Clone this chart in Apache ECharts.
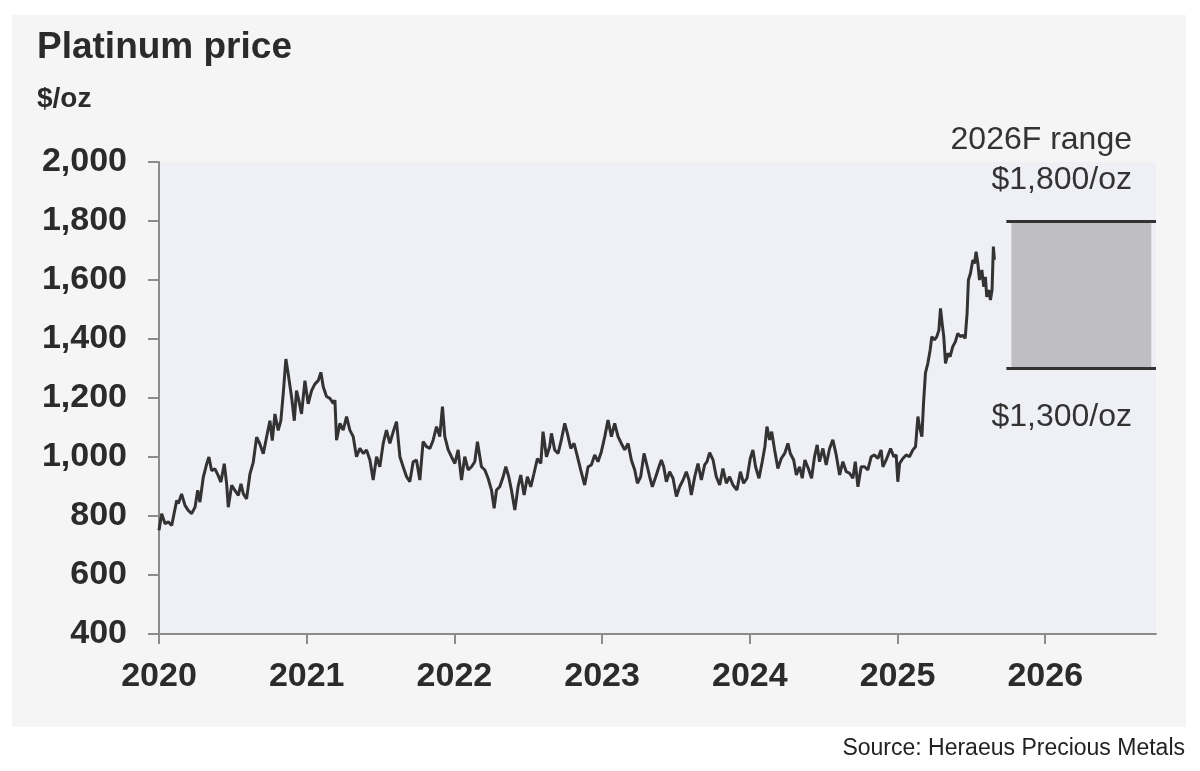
<!DOCTYPE html>
<html>
<head>
<meta charset="utf-8">
<script src="https://cdn.jsdelivr.net/npm/echarts@6/dist/echarts.min.js"></script>
<style>
  html, body { margin: 0; padding: 0; background: #ffffff; }
  #panel { position: absolute; left: 12px; top: 15px; width: 1174px; height: 712px; background: #f5f5f5; }
  #chart { position: absolute; left: 0; top: 0; width: 1200px; height: 771px; }
</style>
</head>
<body>
<div id="panel"></div>
<div id="chart"></div>
<script>
// Time in decimal years
const times = [
  2020.000,2020.018,2020.041,2020.063,2020.086,2020.097,2020.120,2020.131,2020.153,2020.176,
  2020.198,2020.221,2020.244,2020.262,2020.277,2020.300,2020.323,2020.338,2020.356,2020.379,
  2020.401,2020.419,2020.442,2020.458,2020.469,2020.492,2020.514,2020.537,2020.555,2020.571,
  2020.593,2020.616,2020.638,2020.661,2020.683,2020.706,2020.728,2020.751,2020.767,2020.785,
  2020.807,2020.825,2020.841,2020.859,2020.875,2020.898,2020.916,2020.931,2020.947,2020.965,
  2020.988,2021.010,2021.033,2021.055,2021.078,2021.096,
  2021.112,2021.134,2021.157,2021.180,2021.191,2021.202,2021.225,2021.247,2021.270,2021.292,
  2021.315,2021.337,2021.360,2021.383,2021.405,2021.428,2021.450,2021.473,2021.495,2021.518,
  2021.540,2021.563,2021.586,2021.608,2021.631,2021.653,2021.676,2021.698,2021.721,2021.743,
  2021.766,2021.788,2021.811,2021.834,2021.856,2021.879,2021.901,2021.919,2021.935,2021.958,
  2021.980,2022.003,2022.025,2022.048,2022.070,2022.093,2022.116,2022.138,2022.156,2022.183,
  2022.206,2022.228,2022.251,2022.269,2022.285,2022.307,2022.330,2022.348,2022.368,2022.386,
  2022.409,2022.431,2022.449,2022.472,2022.494,2022.517,2022.539,2022.562,2022.585,2022.600,
  2022.623,2022.645,2022.657,2022.679,2022.702,2022.724,2022.747,2022.765,2022.788,2022.810,
  2022.833,2022.855,2022.882,2022.905,2022.927,2022.950,2022.972,2022.995,2023.018,2023.040,
  2023.063,2023.085,2023.108,2023.130,2023.153,2023.176,2023.198,2023.221,2023.239,2023.261,
  2023.284,2023.306,
  2023.322,2023.340,2023.363,2023.385,2023.401,2023.417,2023.435,2023.457,2023.480,2023.503,
  2023.525,2023.548,2023.570,2023.588,2023.604,2023.627,2023.649,2023.672,2023.694,2023.710,
  2023.728,2023.751,2023.773,2023.796,2023.818,2023.841,2023.863,2023.886,2023.913,2023.936,
  2023.958,2023.981,2024.003,2024.021,2024.039,2024.062,2024.084,2024.102,2024.116,2024.134,
  2024.148,2024.168,2024.190,2024.213,2024.236,2024.258,2024.274,2024.297,2024.315,2024.337,
  2024.355,2024.373,2024.396,2024.418,
  2024.438,2024.456,2024.472,2024.495,2024.517,2024.540,2024.562,2024.585,2024.608,2024.630,
  2024.653,2024.675,2024.698,2024.714,2024.732,2024.754,2024.777,2024.799,2024.822,2024.844,
  2024.867,2024.889,2024.901,2024.923,2024.953,2024.975,2024.991,2025.002,
  2025.014,2025.036,2025.059,2025.081,2025.104,2025.122,2025.138,2025.149,2025.165,2025.176,
  2025.189,2025.205,2025.221,2025.232,2025.250,2025.266,2025.280,2025.291,2025.302,2025.313,
  2025.325,2025.341,2025.356,2025.374,2025.392,2025.408,2025.426,2025.442,2025.458,2025.471,
  2025.480,2025.494,2025.510,2025.521,2025.532,2025.544,2025.555,2025.571,2025.584,2025.595,
  2025.604,2025.618,2025.629,2025.640,2025.649,2025.656
];
// Platinum price, $/oz
const prices = [
  752,808,774,780,768,763,853,842,875,836,
  819,808,830,887,847,932,977,1000,954,960,
  937,915,977,909,830,904,887,870,909,875,
  858,943,982,1067,1044,1011,1067,1123,1056,1146,
  1090,1123,1214,1332,1281,1202,1123,1225,1191,1146,
  1259,1180,1225,1247,1259,1287,
  1238,1205,1199,1182,1193,1057,1114,1091,1137,1091,
  1069,1001,1029,1012,1024,990,922,1001,967,1046,
  1091,1046,1086,1120,1001,967,933,916,984,990,
  922,1052,1035,1029,1057,1103,1069,1171,1069,1024,
  1001,978,1024,922,1001,956,967,984,1052,967,
  956,928,888,826,888,899,933,967,933,888,
  820,899,939,871,933,899,945,995,978,1086,
  1001,1035,1080,1024,1012,1058,1114,1080,1029,1046,
  1001,956,905,967,973,1007,984,1018,1069,1125,
  1069,1114,1069,1046,1024,1046,990,956,911,933,
  1012,967,
  933,899,933,967,990,967,916,950,928,866,
  899,922,950,922,871,933,978,922,973,984,
  1015,990,933,905,961,911,933,905,888,950,
  911,928,995,1024,967,928,984,1035,1103,1058,
  1086,1024,961,995,1012,1046,1012,990,939,967,
  928,990,961,928,
  1001,1041,984,1029,973,1029,1058,1007,939,984,
  950,945,928,984,899,967,967,956,1001,1007,
  995,1024,967,990,1029,1001,1007,916,
  978,995,1007,1001,1024,1035,1137,1103,1069,1182,
  1284,1317,1363,1408,1397,1408,1430,1504,1453,1408,
  1317,1351,1340,1374,1391,1419,1408,1413,1402,1487,
  1600,1623,1668,1656,1696,1656,1600,1634,1577,1611,
  1543,1566,1532,1566,1713,1668
];
const yearTicks = [2020, 2021, 2022, 2023, 2024, 2025, 2026];
const yMin = 400, yMax = 2000, yStep = 200;
// 2026 forecast range
const rangeLow = 1300, rangeHigh = 1800;
const rangeLineStart = 2025.737, rangeLineEnd = 2026.75;
const rangeFillStart = 2025.771, rangeFillEnd = 2026.718;

const FONT = '"Liberation Sans", Arial, sans-serif';
const chart = echarts.init(document.getElementById('chart'));
chart.setOption({
  animation: false,
  backgroundColor: 'transparent',
  grid: { left: 159, right: 44, top: 162, bottom: 137, show: true, backgroundColor: '#eff0f5', borderWidth: 0 },
  xAxis: {
    type: 'value', min: 2020, max: 2026.75, interval: 1,
    axisLine: { show: true, onZero: false, lineStyle: { color: '#8c8c8c', width: 2 } },
    axisTick: { show: true, length: 10, customValues: yearTicks, lineStyle: { color: '#8c8c8c', width: 2 } },
    axisLabel: { customValues: yearTicks, formatter: v => String(Math.round(v)), fontFamily: FONT, fontWeight: 'bold', fontSize: 34, color: '#2b2b2b', margin: 26 },
    splitLine: { show: false }
  },
  yAxis: {
    type: 'value', min: yMin, max: yMax, interval: yStep,
    axisLine: { show: true, lineStyle: { color: '#8c8c8c', width: 2 } },
    axisTick: { show: true, length: 11, lineStyle: { color: '#8c8c8c', width: 2 } },
    axisLabel: { formatter: v => v.toLocaleString('en-US'), fontFamily: FONT, fontWeight: 'bold', fontSize: 34, color: '#2b2b2b', margin: 32 },
    splitLine: { show: false }
  },
  graphic: [
    { type: 'text', left: 37, top: 29, style: { text: 'Platinum price', font: 'bold 37px ' + FONT, fill: '#2b2b2b' } },
    { type: 'text', left: 37, top: 85, style: { text: '$/oz', font: 'bold 28px ' + FONT, fill: '#2b2b2b' } },
    { type: 'text', right: 68, top: 124, style: { text: '2026F range', font: '32px ' + FONT, fill: '#333333', textAlign: 'right' } },
    { type: 'text', right: 68, top: 164, style: { text: '$1,800/oz', font: '32px ' + FONT, fill: '#333333', textAlign: 'right' } },
    { type: 'text', right: 68, top: 401, style: { text: '$1,300/oz', font: '32px ' + FONT, fill: '#333333', textAlign: 'right' } },
    { type: 'text', right: 15, top: 737, style: { text: 'Source: Heraeus Precious Metals', font: '23px ' + FONT, fill: '#222222' } }
  ],
  series: [{
    type: 'line',
    data: times.map((t, i) => [t, prices[i]]),
    showSymbol: false,
    silent: true,
    lineStyle: { color: '#333333', width: 3 },
    markArea: {
      silent: true,
      itemStyle: { color: '#bfbfc3' },
      data: [[{ coord: [rangeFillStart, rangeHigh] }, { coord: [rangeFillEnd, rangeLow] }]]
    },
    markLine: {
      silent: true, symbol: ['none', 'none'],
      label: { show: false },
      lineStyle: { color: '#333333', width: 3, type: 'solid' },
      data: [
        [{ coord: [rangeLineStart, rangeHigh] }, { coord: [rangeLineEnd, rangeHigh] }],
        [{ coord: [rangeLineStart, rangeLow] }, { coord: [rangeLineEnd, rangeLow] }]
      ]
    }
  }]
});
</script>
</body>
</html>
